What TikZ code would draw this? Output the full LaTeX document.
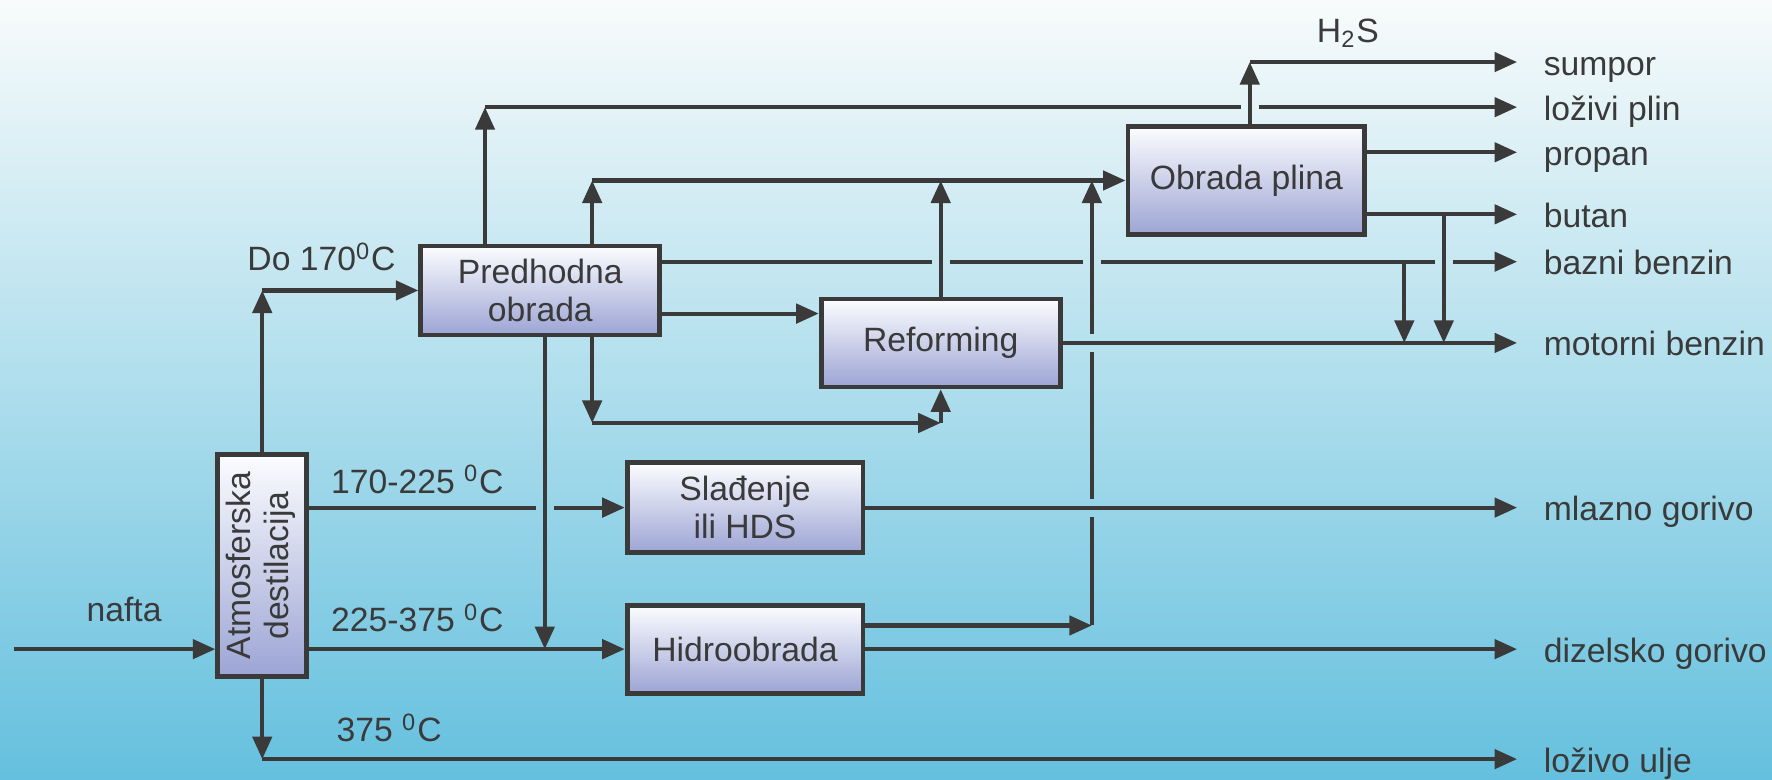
\documentclass[tikz,border=0pt]{standalone}
\usepackage{fontspec}
\setmainfont{Liberation Sans}
\usepackage{tikz}
\usetikzlibrary{arrows.meta}
\definecolor{linegrey}{RGB}{58,58,58}
\definecolor{boxtop}{RGB}{252,253,255}
\definecolor{boxbottom}{RGB}{156,164,212}
\definecolor{bgtop}{RGB}{248,251,251}
\definecolor{bgmid}{RGB}{176,223,236}
\definecolor{bgbottom}{RGB}{100,192,222}

\begin{document}
\begin{tikzpicture}[
    box/.style={draw=linegrey,line width=1.2pt,top color=boxtop,bottom color=boxbottom,
        align=center,inner sep=1pt,font=\fontsize{8.5}{9.5}\selectfont,text=linegrey},
    pipe/.style={draw=linegrey,line width=1.05pt},
    flow/.style={pipe,-{Triangle[length=2mm,width=1.7mm]}},
    lbl/.style={font=\fontsize{8.5}{10}\selectfont,text=linegrey},
    product/.style={lbl,anchor=west,inner xsep=0.23cm,text height=1.5ex,text depth=0.25ex}]

        % background
        \shade[top color=bgtop,middle color=bgmid,bottom color=bgbottom] (0,0) rectangle (15.71,6.915);
        \useasboundingbox (0,0) rectangle (15.71,6.915);

        % units
        \node[box,minimum width=0.79cm,minimum height=1.97cm] (atm) at (2.325,1.90)
            {\rotatebox{90}{\begin{tabular}{@{}c@{}}Atmosferska\\destilacija\end{tabular}}};
        \node[box,minimum width=2.12cm,minimum height=0.79cm] (pred) at (4.79,4.34) {Predhodna\\obrada};
        \node[box,minimum width=2.12cm,minimum height=0.78cm] (ref) at (8.34,3.875) {Reforming};
        \node[box,minimum width=2.10cm,minimum height=0.96cm] (gas) at (11.05,5.315) {Obrada plina};
        \node[box,minimum width=2.09cm,minimum height=0.80cm] (sla) at (6.605,2.415) {Slađenje\\ili HDS};
        \node[box,minimum width=2.09cm,minimum height=0.78cm] (hid) at (6.605,1.16) {Hidroobrada};

        % products
        \node[product] (sumpor) at (13.45,6.365) {sumpor};
        \node[product] (lozplin) at (13.45,5.965) {loživi plin};
        \node[product] (propan) at (13.45,5.565) {propan};
        \node[product] (butan) at (13.45,5.015) {butan};
        \node[product] (bazni) at (13.45,4.595) {bazni benzin};
        \node[product] (motorni) at (13.45,3.875) {motorni benzin};
        \node[product] (mlazno) at (13.45,2.415) {mlazno gorivo};
        \node[product] (dizel) at (13.45,1.16) {dizelsko gorivo};
        \node[product] (lozulje) at (13.45,0.185) {loživo ulje};

        % corners and junctions
        \coordinate (feed) at (0.12,1.16);
        \coordinate (c170) at (2.325,4.34);
        \coordinate (c375) at (2.325,0.185);
        \coordinate (jdown) at (4.83,1.16);
        \coordinate (jfuel) at (4.30,5.965);
        \coordinate (jgas) at (5.25,5.315);
        \coordinate (jloop) at (5.25,3.165);
        \coordinate (jref) at (8.34,3.165);
        \coordinate (jhid) at (9.68,1.37);
        \coordinate (jh2s) at (11.08,6.365);
        \coordinate (jbazni) at (12.45,4.595);
        \coordinate (jbutan) at (12.80,5.015);

        % crude and distillation cuts
        \draw[flow] (feed) -- (feed -| atm.west);
        \node[lbl] (nafta) at (1.10,1.515) {nafta};
        \draw[flow] (atm.north) -- (c170);
        \draw[flow] (c170) -- (pred.west);
        \node[lbl] (t170) at (2.85,4.635) {Do 170\textsuperscript{0}C};
        \draw[pipe] (atm.east |- sla.west) -- (4.75,2.415);
        \draw[flow] (4.91,2.415) -- (sla.west);
        \node[lbl] (t225) at (3.70,2.665) {170-225 \textsuperscript{0}C};
        \draw[flow] (atm.east |- hid.west) -- (hid.west);
        \node[lbl] (t375) at (3.70,1.435) {225-375 \textsuperscript{0}C};
        \draw[flow] (atm.south) -- (c375);
        \draw[flow] (c375) -- (lozulje.west);
        \node[lbl] (tres) at (3.45,0.465) {375 \textsuperscript{0}C};

        % pretreatment
        \draw[flow] (jfuel |- pred.north) -- (jfuel);
        \draw[pipe] (jfuel) -- (11.00,5.965);
        \draw[flow] (11.16,5.965) -- (lozplin.west);
        \draw[flow] (jgas |- pred.north) -- (jgas);
        \draw[flow] (jgas) -- (gas.west);
        \draw[pipe] (pred.east |- bazni.west) -- (8.26,4.595);
        \draw[pipe] (8.42,4.595) -- (9.60,4.595);
        \draw[pipe] (9.76,4.595) -- (12.72,4.595);
        \draw[flow] (12.88,4.595) -- (bazni.west);
        \draw[flow] (pred.east |- 0,4.135) -- (ref.west |- 0,4.135);
        \draw[flow] (jdown |- pred.south) -- (jdown);
        \draw[flow] (jloop |- pred.south) -- (jloop);
        \draw[flow] (jloop) -- (jref);
        \draw[flow] (jref) -- (ref.south);

        % reforming
        \draw[flow] (ref.north) -- (ref.north |- gas.west);
        \draw[flow] (ref.east) -- (motorni.west);

        % gas plant
        \draw[flow] (gas.north -| jh2s) -- (jh2s);
        \draw[flow] (jh2s) -- (sumpor.west);
        \node[lbl] (h2s) at (11.95,6.62) {H\textsubscript{2}S};
        \draw[flow] (gas.east |- propan.west) -- (propan.west);
        \draw[flow] (gas.east |- butan.west) -- (butan.west);
        \draw[flow] (jbazni) -- (jbazni |- motorni.west);
        \draw[flow] (jbutan) -- (jbutan |- motorni.west);

        % jet fuel and diesel
        \draw[flow] (sla.east) -- (mlazno.west);
        \draw[flow] (hid.east) -- (dizel.west);
        \draw[flow] (hid.east |- jhid) -- (jhid);
        \draw[pipe] (jhid) -- (9.68,2.335);
        \draw[pipe] (9.68,2.495) -- (9.68,3.795);
        \draw[flow] (9.68,3.955) -- (jhid |- gas.west);
    \end{tikzpicture}
\end{document}
